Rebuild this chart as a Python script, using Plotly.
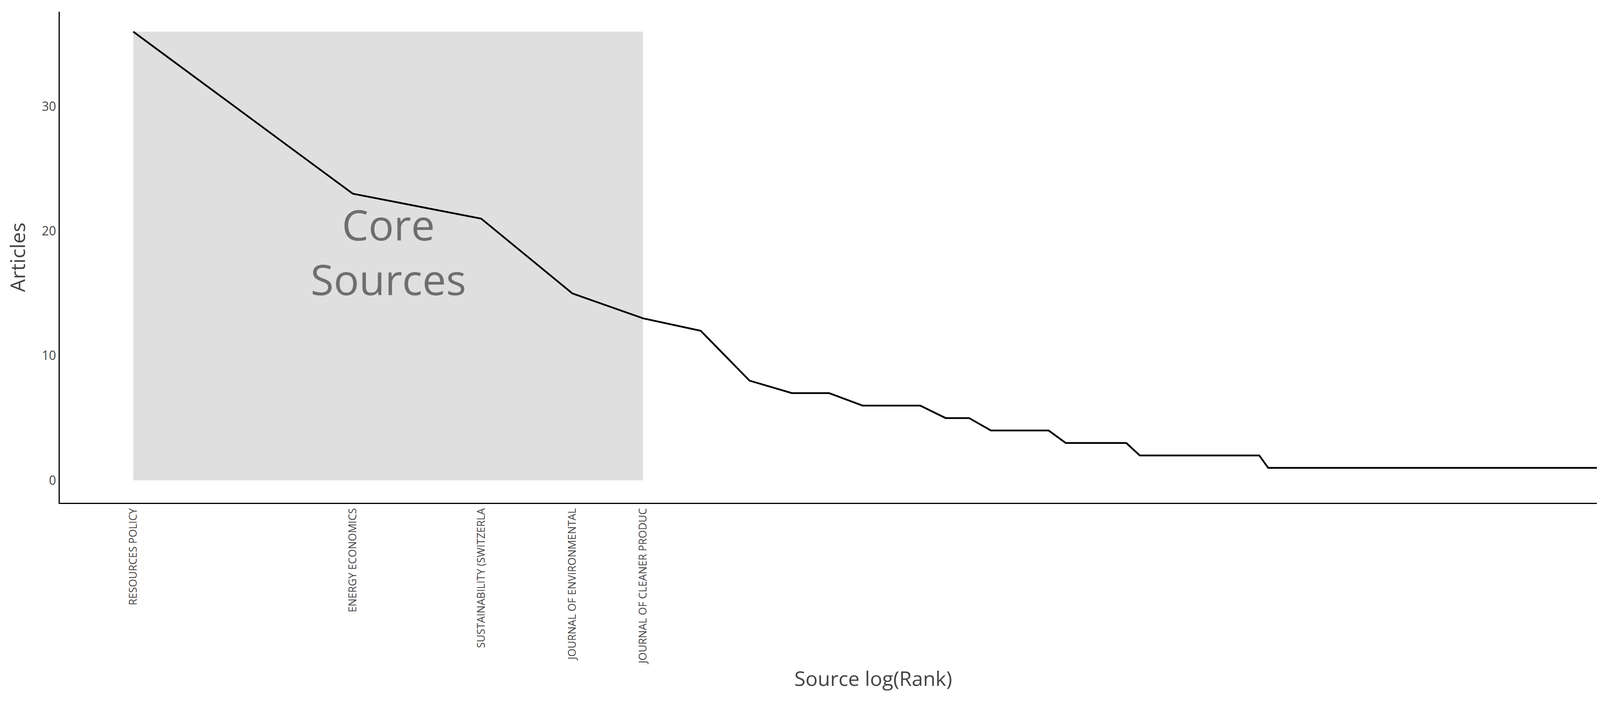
import numpy as np
import plotly.graph_objects as go

articles = [36, 23, 21, 15, 13, 12, 8, 7, 7, 6, 6, 6, 5, 5, 4, 4, 4, 4,
            3, 3, 3, 3, 3] + [2] * 12 + [1] * 72
core_labels = ["RESOURCES POLICY", "ENERGY ECONOMICS", "SUSTAINABILITY (SWITZERLA",
               "JOURNAL OF ENVIRONMENTAL", "JOURNAL OF CLEANER PRODUC"]
n_core = len(core_labels)

ranks = np.arange(1, len(articles) + 1)
logr = np.log(ranks)
max_y = max(articles)

fig = go.Figure()
fig.add_shape(type="rect", x0=0, x1=float(np.log(n_core)), y0=0, y1=max_y,
              fillcolor="#DFDFDF", line_width=0, layer="below")
fig.add_trace(go.Scatter(x=logr, y=articles, mode="lines",
                         line=dict(color="black", width=4.5), showlegend=False))
fig.add_annotation(x=float(np.log(n_core)) / 2, y=max_y * 0.51, text="Core<br>Sources",
                   showarrow=False, font=dict(size=108, color="#6E6E6E", family="Open Sans"))

fig.update_layout(
    width=4340, height=1800, plot_bgcolor="white", paper_bgcolor="white",
    margin=dict(l=145, r=30, t=22, b=520),
    font=dict(family="Open Sans", color="#444"),
)
fig.update_xaxes(range=[-0.232, 4.905], tickmode="array",
                 tickvals=logr[:n_core].tolist(), ticktext=core_labels,
                 tickangle=-90, tickfont=dict(size=27), showgrid=False, zeroline=False,
                 showline=True, linecolor="black", linewidth=3, ticks="",
                 title=dict(text="Source log(Rank)", font=dict(size=52), standoff=20))
fig.update_yaxes(range=[-1.8, 37.6], tickvals=[0, 10, 20, 30], tickfont=dict(size=32),
                 showgrid=False, zeroline=False, showline=True, linecolor="black",
                 linewidth=3, ticks="",
                 title=dict(text="Articles", font=dict(size=52), standoff=30))
fig.write_html("out.html")
